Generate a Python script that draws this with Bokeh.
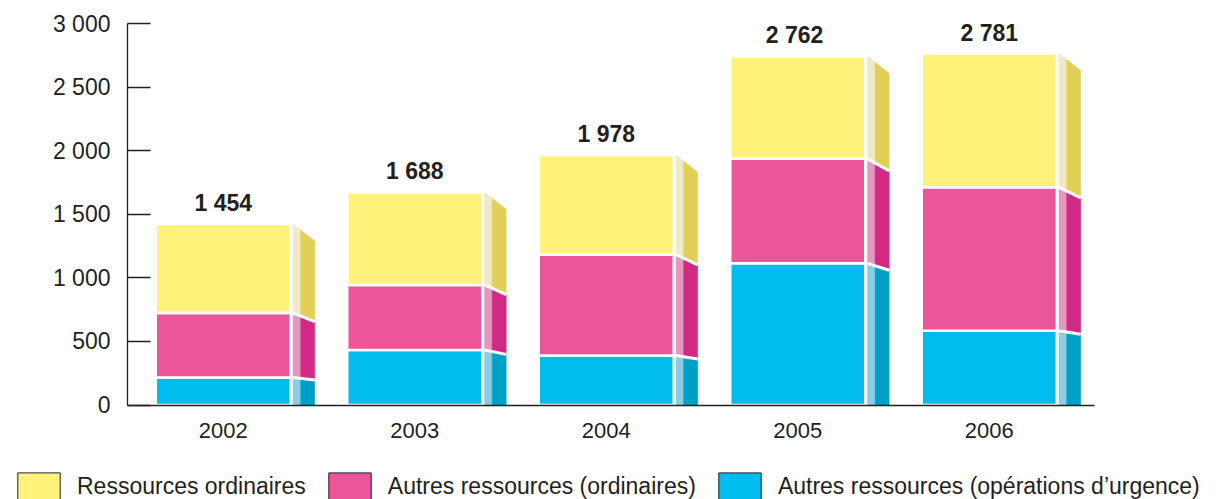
from bokeh.plotting import figure
from bokeh.models import Range1d, FixedTicker, Legend, LegendItem
from bokeh.embed import file_html
from bokeh.resources import INLINE
from bokeh.core.properties import value

# ---------------- data ----------------
years = ["2002", "2003", "2004", "2005", "2006"]
emergency = [217, 433, 389, 1115, 585]          # Autres ressources (opérations d'urgence)
other_regular = [507, 512, 794, 822, 1128]      # Autres ressources (ordinaires)
regular = [701, 729, 782, 808, 1053]            # Ressources ordinaires
total_labels = ["1 454", "1 688", "1 978", "2  762", "2 781"]
series_names = ["Ressources ordinaires", "Autres ressources (ordinaires)",
                "Autres ressources (opérations d\u2019urgence)"]
y_ticks = [0, 500, 1000, 1500, 2000, 2500, 3000]
y_tick_labels = ["0", "500", "1 000", "1 500", "2 000", "2 500", "3 000"]

# ---------------- layout / styles ----------------
W, H = 1225, 499
AX_LEFT_PX, AX_RIGHT_PX = 127, 1094       # y-axis / end of baseline (px)
AX_TOP_PX, AX_BASE_PX = 23.3, 404.5       # 3000 / 0 (px)
Y_MAX = 3000
X_LO = -0.5
PX_PER_X = 191.5
PX_PER_Y = (AX_BASE_PX - AX_TOP_PX) / Y_MAX

x_start = X_LO - AX_LEFT_PX / PX_PER_X
x_end = x_start + W / PX_PER_X
x_hi = X_LO + (AX_RIGHT_PX - AX_LEFT_PX) / PX_PER_X
y_end = AX_BASE_PX / PX_PER_Y
y_start = -(H - AX_BASE_PX) / PX_PER_Y

FONT = "Liberation Sans"
INK = "#231f20"
front_colors = ["#00bcef", "#eb559a", "#fff27a"]   # bottom -> top
side_light = ["#8ccde6", "#e498bd", "#f0e8c6"]
side_dark = ["#00a0c6", "#d02a85", "#e0d058"]
BAR_W = 0.705
SIDE_GAP = 0.012
SIDE_W = 0.125
SPLIT = 0.35
SIDE_DROP = 134.0   # vertical drop of the side face top (data units)

p = figure(width=W, height=H, x_range=Range1d(x_start, x_end), y_range=Range1d(y_start, y_end),
           toolbar_location=None, output_backend="svg", min_border=0,
           outline_line_color=None)
p.grid.visible = False

xs_idx = list(range(len(years)))
segments = [emergency, other_regular, regular]

bottoms = [0] * len(years)
stack_bounds = []
for seg in segments:
    tops = [b + v for b, v in zip(bottoms, seg)]
    stack_bounds.append((list(bottoms), tops))
    bottoms = tops
totals = bottoms

# front faces
for k, (bot, top) in enumerate(stack_bounds):
    p.vbar(x=xs_idx, bottom=bot, top=top, width=BAR_W,
           fill_color=front_colors[k], line_color="white", line_width=2.5)

# side faces (perspective: drop proportional to height within the bar)
half = BAR_W / 2
for k, (bot, top) in enumerate(stack_bounds):
    lx, ly, rx, ry = [], [], [], []
    for i in xs_idx:
        x0 = i + half + SIDE_GAP
        x1 = i + half + SIDE_W
        xm = x0 + (x1 - x0) * SPLIT
        T = totals[i]

        def d(x, y):
            return SIDE_DROP * (y / T) * (x - x0) / (x1 - x0)

        b, t = bot[i], top[i]
        lx.append([x0, x0, xm, xm])
        ly.append([b, t, t - d(xm, t), b - d(xm, b)])
        rx.append([xm, xm, x1, x1])
        ry.append([b - d(xm, b), t - d(xm, t), t - d(x1, t), b - d(x1, b)])
    p.patches(lx, ly, fill_color=side_light[k], line_color=side_light[k], line_width=0.5)
    p.patches(rx, ry, fill_color=side_dark[k], line_color=side_dark[k], line_width=0.5)

# white separators on side faces
sx0, sy0, sx1, sy1 = [], [], [], []
for k, (bot, top) in enumerate(stack_bounds[:-1]):
    for i in xs_idx:
        x0 = i + half + SIDE_GAP
        x1 = i + half + SIDE_W
        y = top[i]
        sx0.append(x0); sy0.append(y)
        sx1.append(x1); sy1.append(y - SIDE_DROP * y / totals[i])
p.segment(x0=sx0, y0=sy0, x1=sx1, y1=sy1, line_color="white", line_width=3)

# totals above bars
p.text(x=xs_idx, y=totals, text=total_labels, text_align="center", text_baseline="bottom",
       y_offset=-8, text_font=value(FONT), text_font_style="bold",
       text_font_size="23px", text_color=INK)

# axes (fixed inside the frame)
p.yaxis.fixed_location = X_LO
p.yaxis.bounds = (0, Y_MAX)
p.yaxis.ticker = FixedTicker(ticks=y_ticks)
p.yaxis.major_label_overrides = {t: l for t, l in zip(y_ticks, y_tick_labels)}
p.yaxis.major_tick_in = 23
p.yaxis.major_tick_out = 0
p.yaxis.minor_tick_in = 0
p.yaxis.minor_tick_out = 0
p.yaxis.major_label_standoff = 17
p.yaxis.axis_line_color = INK
p.yaxis.axis_line_width = 1.3
p.yaxis.major_tick_line_color = INK
p.yaxis.major_tick_line_width = 1.3
p.yaxis.major_label_text_font = FONT
p.yaxis.major_label_text_font_size = "23px"
p.yaxis.major_label_text_color = INK

p.xaxis.fixed_location = 0
p.xaxis.bounds = (X_LO, x_hi)
p.xaxis.ticker = FixedTicker(ticks=xs_idx)
p.xaxis.major_label_overrides = {i: y for i, y in zip(xs_idx, years)}
p.xaxis.major_tick_in = 0
p.xaxis.major_tick_out = 0
p.xaxis.minor_tick_in = 0
p.xaxis.minor_tick_out = 0
p.xaxis.major_label_standoff = 18
p.xaxis.axis_line_color = INK
p.xaxis.axis_line_width = 1.3
p.xaxis.major_label_text_font = FONT
p.xaxis.major_label_text_font_size = "22px"
p.xaxis.major_label_text_color = INK

# ---------------- legend ----------------
legend_colors = [front_colors[2], front_colors[1], front_colors[0]]
items = []
for name, col in zip(series_names, legend_colors):
    r = p.vbar(x=[-10], bottom=[-10000], top=[-9000], width=0.1,
               fill_color=col, line_color=INK, line_width=1)
    items.append(LegendItem(label=name, renderers=[r]))
legend = Legend(items=items, orientation="horizontal", location=(12, -4),
                glyph_width=53, glyph_height=34, label_standoff=12, spacing=17,
                padding=0, margin=0, border_line_alpha=0, background_fill_alpha=0,
                label_text_font=FONT, label_text_font_size="23px", label_text_color=INK)
p.add_layout(legend)

open("out.html", "w").write(file_html(p, INLINE))
